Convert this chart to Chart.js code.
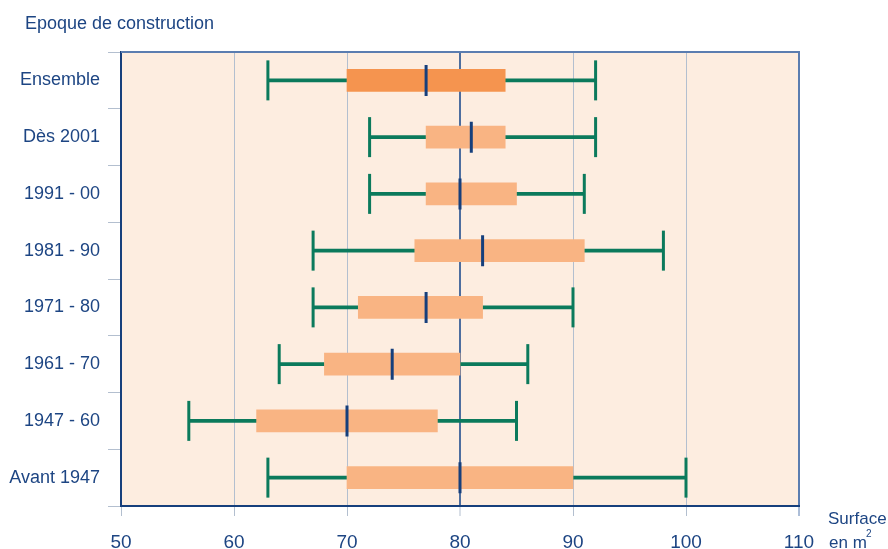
<!DOCTYPE html>
<html lang="fr">
<head>
    <meta charset="UTF-8">
    <title>Surface par époque de construction</title>
    <script src="https://cdn.jsdelivr.net/npm/chart.js"></script>
    <style>
        html, body { margin: 0; padding: 0; background: #ffffff; }
        .chart-container { width: 888px; height: 549px; position: relative; }
    </style>
</head>
<body>
    <div class="chart-container">
        <canvas id="boxChart" width="888" height="549"></canvas>
    </div>

    <script>
        // Epoques de construction (haut -> bas)
        const periods = ['Ensemble', 'Dès 2001', '1991 - 00', '1981 - 90', '1971 - 80', '1961 - 70', '1947 - 60', 'Avant 1947'];
        // Surfaces en m2
        const minValues    = [63, 72, 72, 67, 67, 64, 56, 63];
        const q1Values     = [70, 77, 77, 76, 71, 68, 62, 70];
        const medianValues = [77, 81, 80, 82, 77, 74, 70, 80];
        const q3Values     = [84, 84, 85, 91, 82, 80, 78, 90];
        const maxValues    = [92, 92, 91, 98, 90, 86, 85, 100];
        const xTicks = [50, 60, 70, 80, 90, 100, 110];

        const FONT = "'Liberation Sans', Arial, sans-serif";
        const TEXT = '#1d4583';
        const GREEN = '#0b7a5c';
        const NAVY = '#163f7c';

        const pairs = (a, b) => a.map((v, i) => [v, b[i]]);
        const points = (vals) => vals.map((v, i) => ({ x: v, y: periods[i] }));

        const decorations = {
            id: 'decorations',
            beforeDraw(chart) {
                const { ctx, chartArea: a } = chart;
                ctx.save();
                ctx.fillStyle = '#fdede0';
                ctx.fillRect(a.left, a.top, a.right - a.left, a.bottom - a.top);
                ctx.restore();
            },
            afterDraw(chart) {
                const { ctx, chartArea: a } = chart;
                ctx.save();
                // top border
                ctx.strokeStyle = '#5b7db0';
                ctx.lineWidth = 2;
                ctx.beginPath();
                ctx.moveTo(a.left, a.top);
                ctx.lineTo(a.right + 1, a.top);
                ctx.stroke();
                // titles
                ctx.fillStyle = TEXT;
                ctx.textBaseline = 'alphabetic';
                ctx.font = '18px ' + FONT;
                ctx.fillText('Epoque de construction', 25, 29);
                ctx.font = '17px ' + FONT;
                ctx.fillText('Surface', 828, 524);
                ctx.fillText('en m', 829, 548);
                ctx.font = '10px ' + FONT;
                ctx.fillText('2', 866, 537);
                ctx.restore();
            }
        };

        const ctx = document.getElementById('boxChart').getContext('2d');
        new Chart(ctx, {
            type: 'bar',
            data: {
                labels: periods,
                datasets: [
                    {
                        label: 'Moustaches',
                        data: pairs(minValues, maxValues),
                        backgroundColor: GREEN,
                        barThickness: 3,
                        grouped: false,
                        borderSkipped: false,
                        order: 4
                    },
                    {
                        label: 'Quartiles',
                        data: pairs(q1Values, q3Values),
                        backgroundColor: periods.map((p, i) => i === 0 ? '#f5944f' : '#f9b483'),
                        barThickness: 22,
                        grouped: false,
                        borderSkipped: false,
                        order: 3
                    },
                    {
                        type: 'scatter',
                        label: 'Minimum',
                        data: points(minValues),
                        pointStyle: 'line',
                        rotation: 90,
                        radius: 20,
                        borderWidth: 3,
                        borderColor: GREEN,
                        order: 2
                    },
                    {
                        type: 'scatter',
                        label: 'Maximum',
                        data: points(maxValues),
                        pointStyle: 'line',
                        rotation: 90,
                        radius: 20,
                        borderWidth: 3,
                        borderColor: GREEN,
                        order: 2
                    },
                    {
                        type: 'scatter',
                        label: 'Médiane',
                        data: points(medianValues),
                        pointStyle: 'line',
                        rotation: 90,
                        radius: 15.5,
                        borderWidth: 3,
                        borderColor: NAVY,
                        order: 1
                    }
                ]
            },
            options: {
                indexAxis: 'y',
                responsive: false,
                animation: false,
                events: [],
                layout: { padding: { top: 52, right: 89, left: 0, bottom: 0 } },
                plugins: {
                    legend: { display: false },
                    tooltip: { enabled: false }
                },
                scales: {
                    x: {
                        type: 'linear',
                        min: 50,
                        max: 110,
                        afterBuildTicks: (scale) => { scale.ticks = xTicks.map(v => ({ value: v })); },
                        afterFit: (scale) => { scale.height = 43; },
                        border: { color: NAVY, width: 2 },
                        grid: {
                            color: (c) => c.tick && c.tick.value === 80 ? '#4d6e9f' : (c.tick && c.tick.value === 110 ? '#5b7db0' : '#b3bfcf'),
                            lineWidth: (c) => c.tick && (c.tick.value === 80 || c.tick.value === 110) ? 2 : 1,
                            tickColor: (c) => c.tick && c.tick.value === 110 ? '#5b7db0' : '#b3bfcf',
                            tickWidth: 1,
                            tickLength: 10
                        },
                        ticks: {
                            color: TEXT,
                            font: { family: FONT, size: 19 },
                            padding: 15,
                            maxRotation: 0
                        }
                    },
                    y: {
                        type: 'category',
                        offset: true,
                        afterFit: (scale) => { scale.width = 121; },
                        border: { color: NAVY, width: 2 },
                        grid: {
                            offset: true,
                            drawOnChartArea: false,
                            drawTicks: true,
                            tickLength: 13,
                            color: '#b3bfcf'
                        },
                        ticks: {
                            color: TEXT,
                            font: { family: FONT, size: 18 },
                            padding: 8
                        }
                    }
                }
            },
            plugins: [decorations]
        });
    </script>
</body>
</html>
